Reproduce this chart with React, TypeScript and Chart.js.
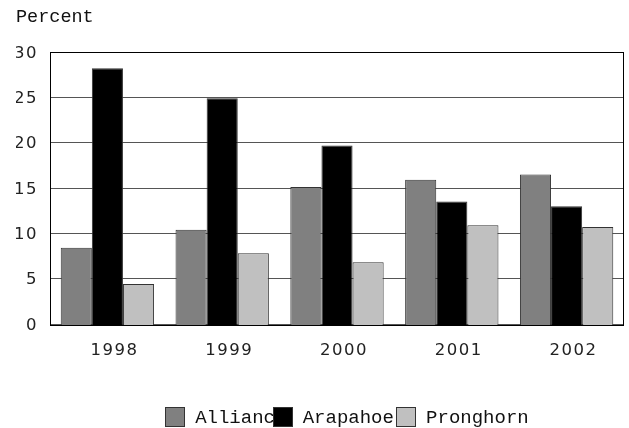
import React, { useEffect, useRef } from "react";
import { Chart, registerables } from "chart.js";

Chart.register(...registerables);

const years = ["1998", "1999", "2000", "2001", "2002"];
const seriesNames = ["Alliance", "Arapahoe", "Pronghorn"];
const allianceValues = [8.4, 10.4, 15.1, 15.9, 16.5];
const arapahoeValues = [28.2, 24.9, 19.7, 13.5, 13.0];
const pronghornValues = [4.4, 7.8, 6.8, 10.9, 10.7];
const seriesColors = ["#808080", "#000000", "#c0c0c0"];
const yTicks = [0, 5, 10, 15, 20, 25, 30];
const yMin = -0.22;
const yMax = 30;
const titleText = "Percent";

const frameBorder = {
  id: "frameBorder",
  afterDatasetsDraw(chart: any) {
    const { ctx, chartArea } = chart;
    ctx.save();
    ctx.strokeStyle = "#000";
    ctx.lineWidth = 1;
    const l = Math.round(chartArea.left) + 0.5;
    const t = Math.round(chartArea.top) + 0.5;
    const r = Math.round(chartArea.right) - 0.5;
    const b = Math.round(chartArea.bottom) - 0.5;
    ctx.strokeRect(l, t, r - l, b - t);
    ctx.restore();
    // spacing for the tick labels, which are drawn after datasets (z: 1)
    (ctx as any).letterSpacing = "1.5px";
  },
  afterDraw(chart: any) {
    (chart.ctx as any).letterSpacing = "0px";
  },
};

const monoLegend = {
  id: "monoLegend",
  afterDraw(chart: any) {
    const { ctx, chartArea } = chart;
    const datasets = chart.data.datasets;
    const box = 20;
    const gap = 10;
    const spacing = 11;
    ctx.save();
    (ctx as any).letterSpacing = "0px";
    ctx.font = '19px "Liberation Sans"';
    const widths = datasets.map((d: any) => ctx.measureText(d.label).width);
    let total = 0;
    widths.forEach((w: number, i: number) => {
      total += box + gap + w + (i < widths.length - 1 ? spacing : 0);
    });
    let x = (chartArea.left + chartArea.right) / 2 - total / 2 + 3;
    const cy = chart.height - 11.5;
    ctx.font = '19px "Liberation Mono"';
    ctx.textBaseline = "middle";
    ctx.textAlign = "left";
    datasets.forEach((d: any, i: number) => {
      const bx = Math.round(x) + 0.5;
      const by = Math.round(cy - box / 2) + 0.5;
      ctx.fillStyle = d.backgroundColor;
      ctx.fillRect(bx, by, box - 1, box - 1);
      ctx.strokeStyle = "#333";
      ctx.lineWidth = 1;
      ctx.strokeRect(bx, by, box - 1, box - 1);
      ctx.fillStyle = "#111";
      ctx.fillText(d.label, x + box + gap, cy + 1);
      x += box + gap + widths[i] + spacing;
    });
    ctx.restore();
  },
};

export default function App() {
  const canvasRef = useRef<HTMLCanvasElement | null>(null);

  useEffect(() => {
    if (!canvasRef.current) return;
    const valueSets = [allianceValues, arapahoeValues, pronghornValues];
    const chart = new Chart(canvasRef.current, {
      type: "bar",
      data: {
        labels: years,
        datasets: seriesNames.map((name, i) => ({
          label: name,
          data: valueSets[i],
          backgroundColor: seriesColors[i],
          borderColor: "#333",
          borderWidth: 1,
          base: yMin,
          categoryPercentage: 0.813,
          barPercentage: 1.0,
        })),
      },
      options: {
        animation: false,
        responsive: true,
        maintainAspectRatio: false,
        devicePixelRatio: 1,
        layout: { padding: { left: 16, right: 5, top: 0, bottom: 68 } },
        plugins: {
          legend: { display: false },
          tooltip: { enabled: false },
          title: {
            display: true,
            text: titleText,
            align: "start",
            color: "#111",
            font: { family: '"Liberation Mono"', size: 18.5, weight: "normal" },
            padding: { top: 5.6, bottom: 24.2 },
          },
        },
        scales: {
          x: {
            type: "category",
            offset: true,
            grid: { display: false, drawTicks: false },
            border: { display: false },
            ticks: {
              z: 1,
              color: "#222",
              padding: 15,
              labelOffset: 7,
              font: { family: '"DejaVu Sans"', size: 16.5 },
              maxRotation: 0,
            },
            afterFit(scale: any) {
              scale.height = 34;
            },
          },
          y: {
            min: yMin,
            max: yMax,
            grid: { color: "#555", lineWidth: 1, drawTicks: false },
            border: { display: false },
            ticks: {
              z: 1,
              color: "#222",
              padding: 12,
              labelOffset: 1.5,
              font: { family: '"DejaVu Sans"', size: 16.5 },
            },
            afterBuildTicks(scale: any) {
              scale.ticks = yTicks.map((v) => ({ value: v }));
            },
            afterFit(scale: any) {
              scale.width = 34;
            },
          },
        },
      },
      plugins: [frameBorder, monoLegend],
    });
    return () => chart.destroy();
  }, []);

  return (
    <div style={{ position: "fixed", left: 0, top: 0, width: 629, height: 428, background: "#fff" }}>
      <canvas ref={canvasRef} />
    </div>
  );
}
